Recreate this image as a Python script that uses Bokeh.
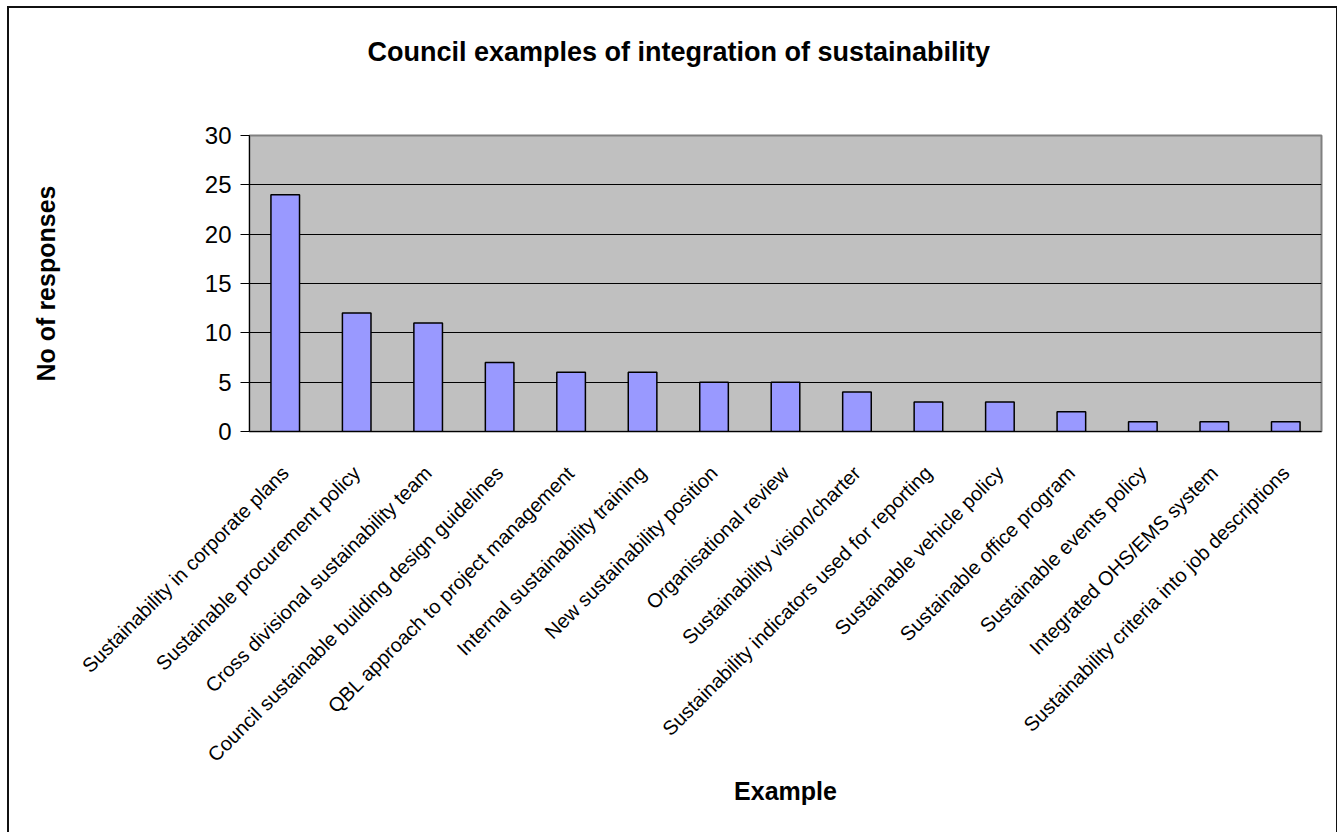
from bokeh.plotting import figure
from bokeh.embed import file_html
from bokeh.resources import INLINE
from bokeh.models import ColumnDataSource, Title, FixedTicker
import math

categories = [
    "Sustainability in corporate plans",
    "Sustainable procurement policy",
    "Cross divisional sustainability team",
    "Council sustainable building design guidelines",
    "QBL approach to project management",
    "Internal sustainability training",
    "New sustainability position",
    "Organisational review",
    "Sustainability vision/charter",
    "Sustainability indicators used for reporting",
    "Sustainable vehicle policy",
    "Sustainable office program",
    "Sustainable events policy",
    "Integrated OHS/EMS system",
    "Sustainability criteria into job descriptions",
]
responses = [24, 12, 11, 7, 6, 6, 5, 5, 4, 3, 3, 2, 1, 1, 1]
y_ticks = [0, 5, 10, 15, 20, 25, 30]
title_text = "Council examples of integration of sustainability"

FONT = "Liberation Sans"

src = ColumnDataSource(dict(cat=categories, val=responses))

p = figure(
    x_range=categories, y_range=(0, 30),
    width=1327, height=824,
    output_backend="svg", toolbar_location=None, tools="",
    min_border_left=240, min_border_right=15,
    min_border_top=127, min_border_bottom=401,
)
p.margin = (8, 0, 0, 9)
p.styles = {"outline": "2px solid #111111"}

p.background_fill_color = "#C0C0C0"
p.border_fill_color = "white"
p.outline_line_color = "#808080"
p.outline_line_width = 2

p.vbar(x="cat", top="val", width=0.4, source=src,
       fill_color="#9999FF", line_color="black", line_width=1.5)

# main title (placed outermost) and an invisible spacer nearer the frame
p.title = Title(text=title_text, align="left", offset=118,
                text_font=FONT, text_font_size="27px",
                text_font_style="bold", text_color="black", standoff=10)
spacer = Title(text=" ", text_font_size="2px", standoff=60,
               text_color="white")
p.add_layout(spacer, "above")

p.xgrid.visible = False
p.ygrid.grid_line_color = "black"
p.ygrid.grid_line_width = 1
p.ygrid.ticker = FixedTicker(ticks=y_ticks)

p.yaxis.ticker = FixedTicker(ticks=y_ticks)
p.yaxis.axis_label = "No of responses"
p.yaxis.axis_label_text_font = FONT
p.yaxis.axis_label_text_font_size = "25px"
p.yaxis.axis_label_text_font_style = "bold"
p.yaxis.axis_label_text_color = "black"
p.yaxis.axis_label_standoff = 142
p.yaxis.major_label_text_font = FONT
p.yaxis.major_label_text_font_size = "24px"
p.yaxis.major_label_text_color = "black"
p.yaxis.major_label_standoff = 9
p.yaxis.major_tick_out = 9
p.yaxis.major_tick_in = 0
p.yaxis.minor_tick_out = 0
p.yaxis.minor_tick_in = 0
p.yaxis.axis_line_color = "black"
p.yaxis.major_tick_line_color = "black"

p.xaxis.axis_label = "Example"
p.xaxis.axis_label_text_font = FONT
p.xaxis.axis_label_text_font_size = "25px"
p.xaxis.axis_label_text_font_style = "bold"
p.xaxis.axis_label_text_color = "black"
p.xaxis.axis_label_standoff = 0
p.xaxis.major_label_orientation = math.pi / 4
p.xaxis.major_label_text_font = FONT
p.xaxis.major_label_text_font_size = "20px"
p.xaxis.major_label_text_color = "black"
p.xaxis.major_label_standoff = 38
p.xaxis.major_tick_out = 0
p.xaxis.major_tick_in = 0
p.xaxis.axis_line_color = "black"

open("out.html", "w").write(file_html(p, INLINE))
